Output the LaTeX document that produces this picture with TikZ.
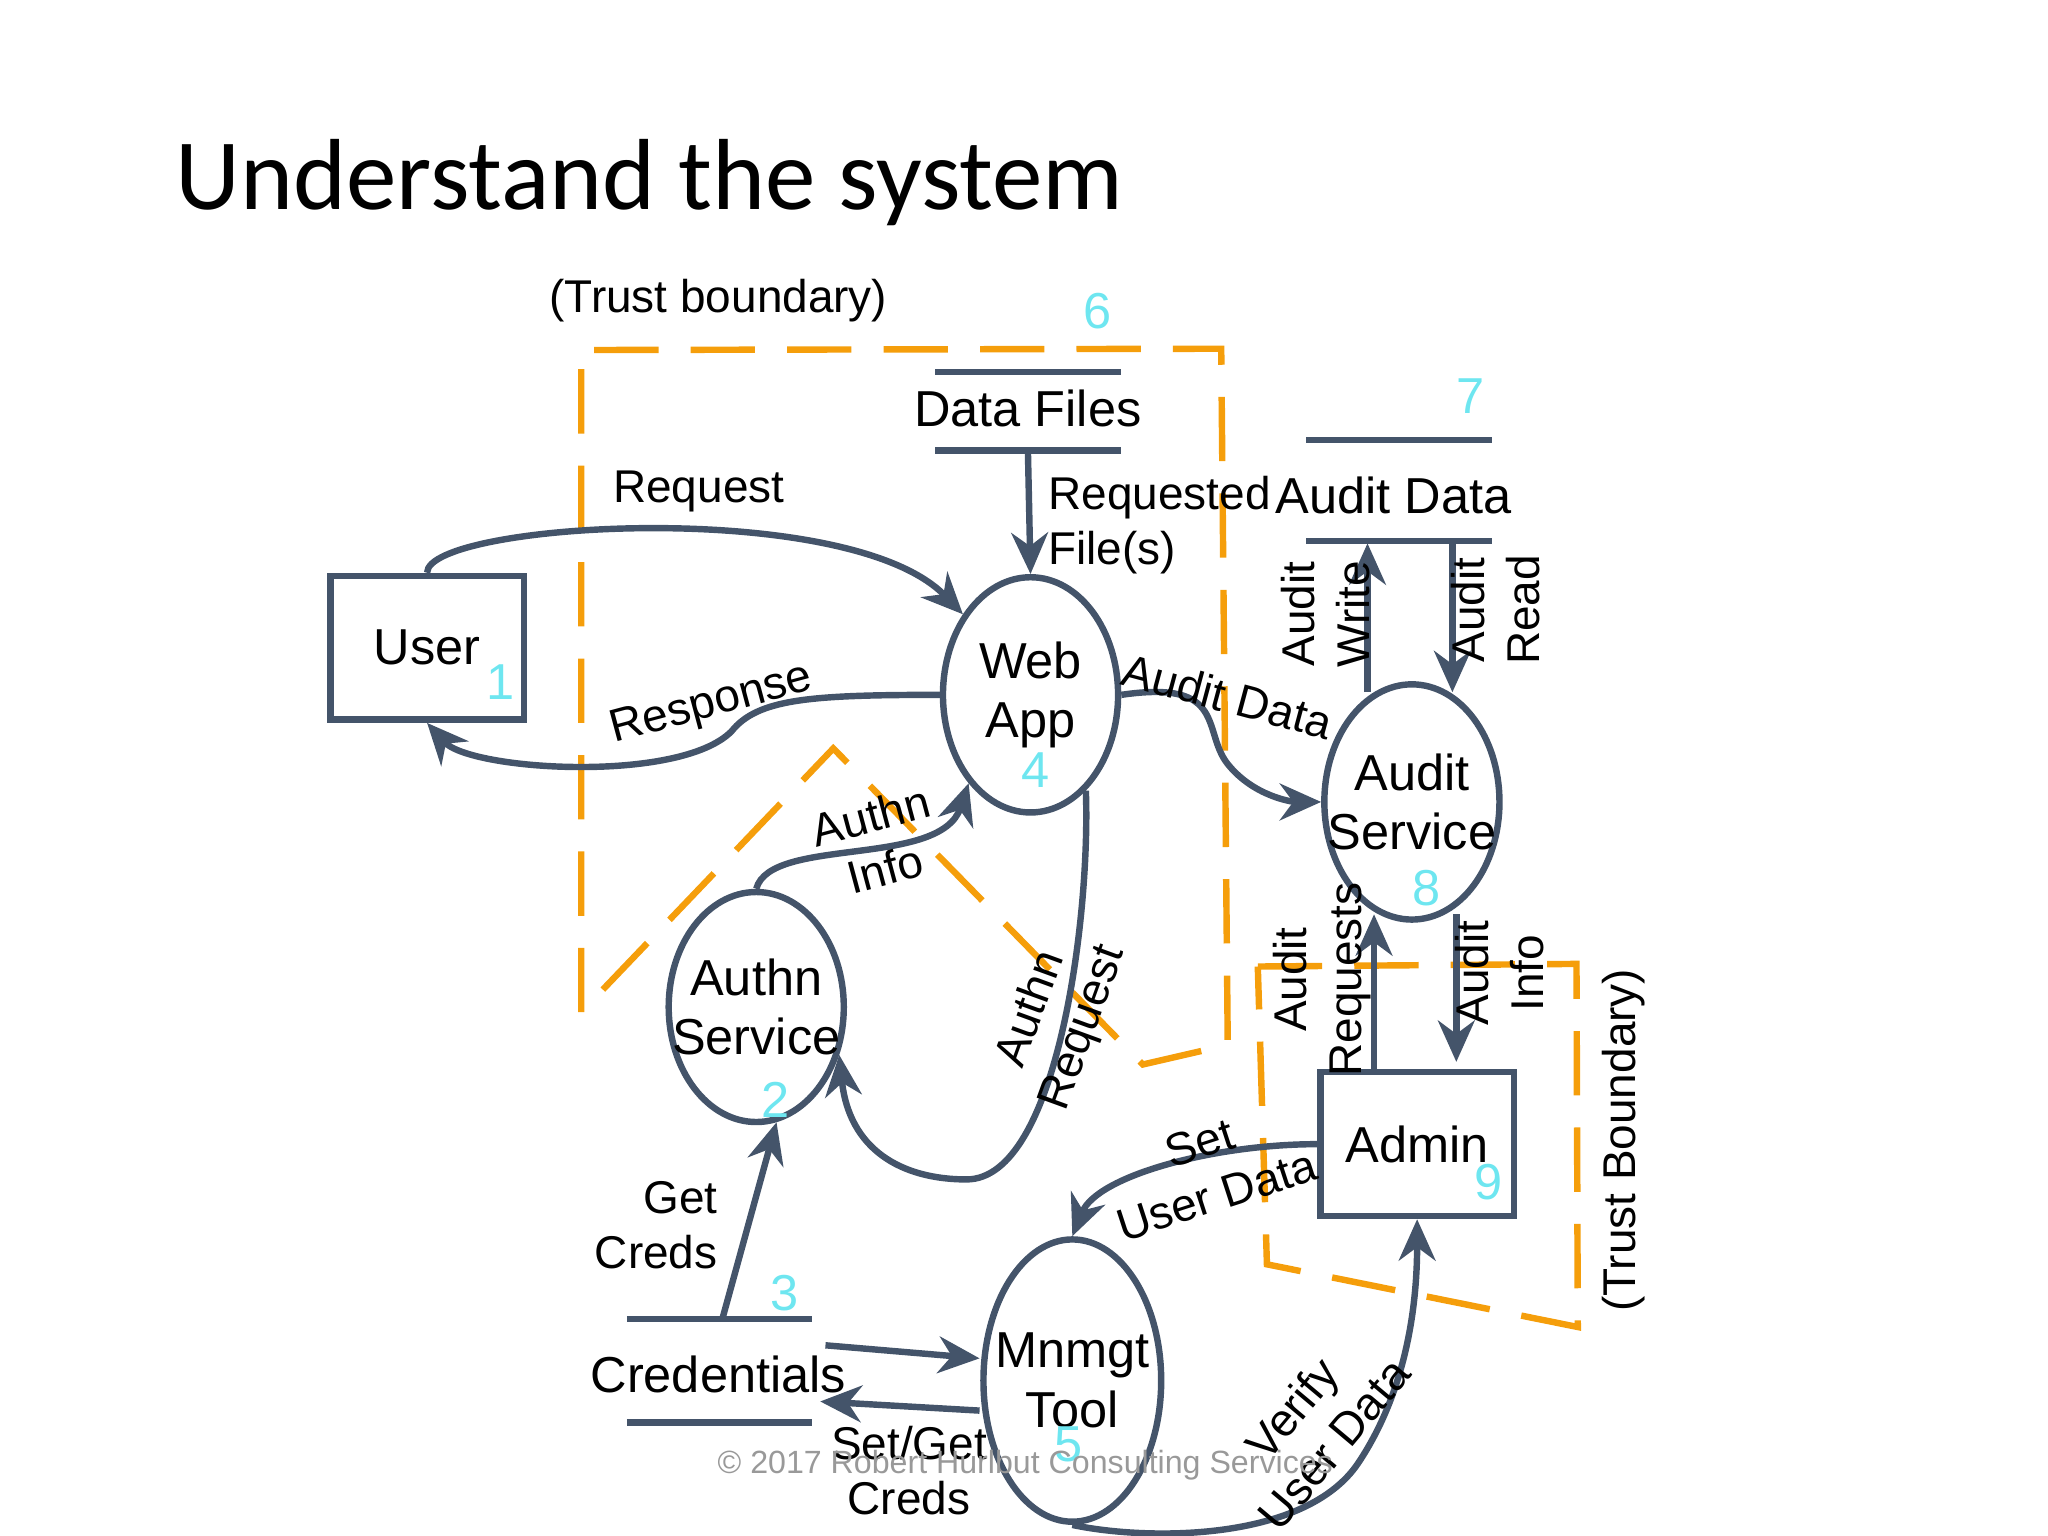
\documentclass[tikz,border=0pt]{standalone}
\usepackage{fontspec}
\setmainfont{Liberation Sans}
\newfontfamily\titlef{Carlito}
\usetikzlibrary{arrows.meta,shapes.geometric}
\definecolor{dk}{HTML}{44546A}
\definecolor{org}{HTML}{F59E0B}
\definecolor{cy}{HTML}{6EE6F0}
\begin{document}
\begin{tikzpicture}[x=0.01cm,y=-0.01cm,
 ln/.style={draw=dk,line width=1.4pt},
 ar/.style={ln,-{Stealth[length=9pt,width=8pt]}},
 tb/.style={draw=org,line width=1.4pt,dash pattern=on 14pt off 7pt},
 big/.style={font=\fontsize{11}{13}\selectfont,align=center,inner sep=0pt},
 lab/.style={font=\fontsize{10}{12}\selectfont,align=center,inner sep=0pt},
 num/.style={font=\fontsize{11}{13}\selectfont,text=cy,inner sep=0pt},
 proc/.style={ellipse,ln,minimum width=1.34cm,minimum height=1.8cm,inner sep=0pt,
   label={[big]center:#1}}]
\useasboundingbox (0,0) rectangle (1568,1176);
\node[anchor=west,font=\titlef\fontsize{22}{26}\selectfont] (title) at (122,140) {Understand the system};
% trust boundaries
\draw[tb] (445,775)--(445,268)--(935,267)--(940,800)--(875,815)--(638,573)--cycle;
\draw[tb] (963,740)--(1207,738)--(1208,1016)--(970,968)--cycle;
\node[lab] (tb1) at (550,230) {(Trust boundary)};
\node[lab,rotate=90] (tb2) at (1243,873) {(Trust Boundary)};
\node[num] (n6) at (840,238) {6};
% stores
\draw[ln] (716,285)--(858,285) (716,345)--(858,345);
\node[big] (df) at (787,313) {Data Files};
\coordinate (dfb) at (787,345);
\draw[ln] (1000,337)--(1142,337) (1000,414)--(1142,414);
\node[big] (ad) at (1067,379) {Audit Data};
\node[num] (n7) at (1126,303) {7};
\draw[ln] (480,1010)--(622,1010) (480,1089)--(622,1089);
\node[big] (cr) at (550,1052) {Credentials};
\node[num] (n3) at (601,990) {3};
% entities
\node[ln,minimum width=1.48cm,minimum height=1.1cm,big] (user) at (327,496) {User};
\node[num] (n1) at (383,522) {1};
\node[ln,minimum width=1.48cm,minimum height=1.1cm,big] (admin) at (1085,876) {Admin};
\node[num] (n9) at (1140,905) {9};
% processes
\node[proc={Web\\App}] (web) at (789,532) {};
\node[num] (n4) at (793,590) {4};
\node[proc={Audit\\Service}] (aus) at (1081,614) {};
\node[num] (n8) at (1092,680) {8};
\node[proc={Authn\\Service},minimum height=1.76cm] (authn) at (579,771) {};
\node[num] (n2) at (594,842) {2};
\node[proc={Mnmgt\\Tool},minimum width=1.36cm,minimum height=2.16cm] (mt) at (821,1057) {};
\node[num] (n5) at (818,1106) {5};
% flows
\draw[ar] (dfb) -- (web.north);
\node[lab,anchor=west,align=left] (rf) at (802,402) {Requested\\File(s)};
\draw[ar] (user.north) .. controls (327,400) and (650,380) .. (web.130);
\node[lab] (req) at (535,376) {Request};
\draw[ar] (web.west) .. controls (620,532) and (580,535) .. (560,560) .. controls (520,600) and (360,590) .. (user.south);
\node[lab,rotate=15] (resp) at (545,540) {Response};
\draw[ar] (web.east) .. controls (940,520) and (920,560) .. (940,585) .. controls (960,610) and (990,614) .. (aus.west);
\node[lab,rotate=-15] (adl) at (940,533) {Audit Data};
\draw[ar] (1047,530) -- (1047,416);
\node[lab,rotate=90] (aw) at (1015,470) {Audit\\Write};
\draw[ar] (1112,416) -- (1112,530);
\node[lab,rotate=90] (arl) at (1145,467) {Audit\\Read};
\draw[ar] (1052,821) -- (1052,700);
\node[lab,rotate=90] (areq) at (1012,750) {Audit\\Requests};
\draw[ar] (1115,700) -- (1115,813);
\node[lab,rotate=90] (ai) at (1148,745) {Audit\\Info};
\draw[ar] (authn.north) .. controls (590,640) and (720,665) .. (web.235);
\node[lab,rotate=15] (ail) at (672,645) {Authn\\Info};
\draw[ar] (web.300) .. controls (835,700) and (810,903) .. (740,903) .. controls (690,903) and (650,880) .. (authn.330);
\node[lab,rotate=70] (arq) at (810,780) {Authn\\Request};
\draw[ar] (553,1010) -- (authn.280);
\node[lab,align=right,anchor=east] (gc) at (550,938) {Get\\Creds};
\draw[ar] (admin.west) .. controls (930,876) and (840,900) .. (mt.north);
\node[lab,rotate=18] (sud) at (925,895) {Set\\User Data};
\draw[ar] (632,1030) -- (750,1040);
\draw[ar] (750,1080) -- (628,1073);
\node[lab] (sgc) at (696,1126) {Set/Get\\Creds};
\draw[ar] (mt.south) .. controls (880,1180) and (1000,1180) .. (1040,1120) .. controls (1080,1060) and (1085,990) .. (admin.south);
\node[lab,rotate=50] (vud) at (1005,1092) {Verify\\User Data};
\node[font=\fontsize{7}{9}\selectfont,text=gray!80] (ft) at (785,1122) {© 2017 Robert Hurlbut Consulting Services};
\end{tikzpicture}
\end{document}
